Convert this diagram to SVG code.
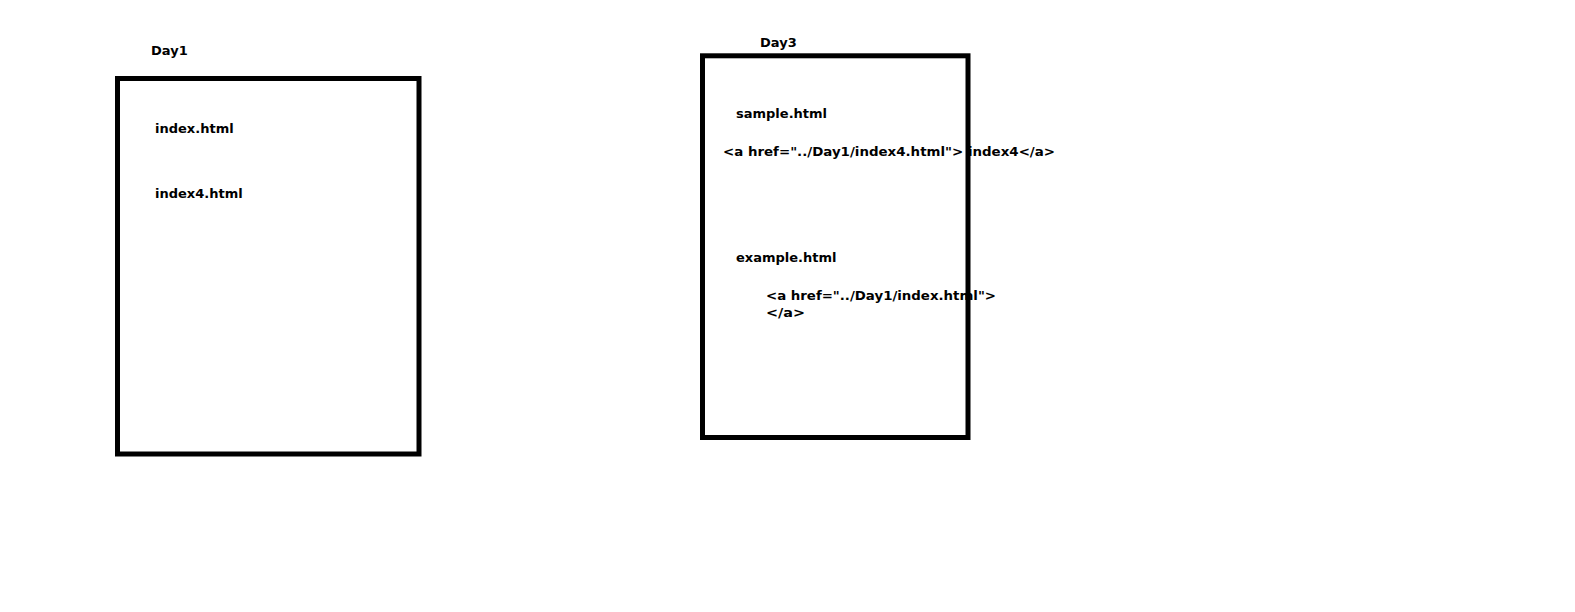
<svg xmlns="http://www.w3.org/2000/svg" width="1575" height="612" viewBox="0 0 1575 612">
<style>
.t{font-family:"DejaVu Sans",Verdana,sans-serif;font-weight:bold;font-size:13px;fill:#000}
.box{fill:none;stroke:#000;stroke-width:5}
</style>
<rect width="1575" height="612" fill="#fff"/>
<g id="day1">
<text class="t" x="151" y="55">Day1</text>
<text class="t" x="155" y="133">index.html</text>
<text class="t" x="155" y="198">index4.html</text>
<rect class="box" x="117.5" y="78.5" width="301.5" height="375.5"/>
</g>
<g id="day3">
<text class="t" x="760" y="47">Day3</text>
<text class="t" x="736" y="118">sample.html</text>
<text class="t" x="723" y="156" textLength="332" lengthAdjust="spacingAndGlyphs">&lt;a href="../Day1/index4.html"&gt; index4&lt;/a&gt;</text>
<text class="t" x="736" y="262">example.html</text>
<text class="t" x="766" y="299.5" textLength="230" lengthAdjust="spacingAndGlyphs">&lt;a href="../Day1/index.html"&gt;</text>
<text class="t" x="766" y="316.5" textLength="39" lengthAdjust="spacingAndGlyphs">&lt;/a&gt;</text>
<rect class="box" x="702.5" y="55.8" width="265.5" height="381.7"/>
</g>
<g id="connectors"/>
</svg>
